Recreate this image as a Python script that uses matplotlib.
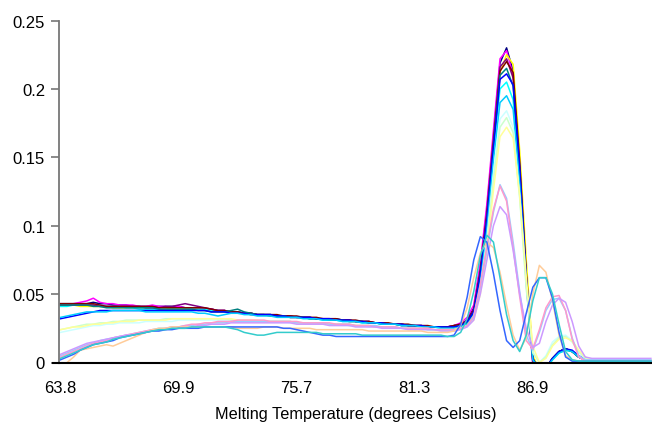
import numpy as np
import matplotlib
matplotlib.use("Agg")
import matplotlib.pyplot as plt

# melt curve derivative values, in thousandths, one reading per step
temps_labels = ["63.8", "69.9", "75.7", "81.3", "86.9"]
label_idx = [0, 18, 36, 54, 72]

navy = [43, 43, 43, 43, 43, 44, 43, 43, 42, 42, 42,
        41, 41, 41, 41, 41, 41, 41, 41, 40, 40,
        40, 39, 39, 38, 38, 37, 37, 36, 36, 35,
        35, 35, 34, 34, 34, 33, 33, 33, 32, 32,
        32, 32, 31, 31, 30, 30, 30, 29, 29, 28,
        28, 28, 27, 27, 27, 26, 26, 26, 26, 27,
        28, 31, 40, 70, 112, 165, 219, 230, 213, 143,
        62, 0, -6, -4, 3, 8, 10, 8, 4, 2,
        1, 1, 1, 1, 1, 1, 1, 1, 1, 1]
magenta = [42, 42, 43, 44, 45, 47, 44, 43, 43, 42, 42,
           42, 41, 41, 42, 41, 41, 40, 41, 40, 40,
           40, 39, 39, 38, 38, 37, 36, 36, 36, 35,
           35, 34, 34, 34, 33, 33, 33, 32, 32, 32,
           32, 31, 31, 30, 30, 30, 29, 29, 29, 28,
           28, 27, 27, 27, 26, 26, 26, 26, 26, 27,
           29, 33, 42, 73, 116, 170, 222, 228, 210, 140,
           58, -2, -7, -4, 3, 8, 10, 8, 4, 2,
           1, 1, 1, 1, 1, 1, 1, 1, 1, 1]
yellow = [42, 42, 42, 41, 41, 41, 41, 41, 40, 40, 40,
          40, 40, 40, 40, 40, 40, 39, 39, 39, 39,
          39, 38, 38, 37, 37, 37, 36, 36, 35, 35,
          35, 34, 34, 34, 33, 33, 33, 32, 32, 32,
          31, 31, 31, 30, 30, 30, 29, 29, 29, 28,
          28, 28, 27, 27, 26, 26, 26, 26, 26, 26,
          27, 30, 37, 63, 105, 160, 212, 225, 218, 155,
          75, 5, -5, -4, 2, 7, 9, 8, 4, 2,
          1, 1, 1, 1, 1, 1, 1, 1, 1, 1]
cyan = [41, 41, 42, 42, 42, 42, 41, 41, 41, 41, 40,
        40, 39, 39, 39, 39, 38, 38, 38, 38, 39,
        39, 39, 38, 38, 37, 37, 37, 36, 36, 35,
        35, 35, 34, 34, 33, 33, 33, 32, 32, 31,
        31, 31, 30, 30, 30, 29, 29, 29, 28, 28,
        28, 27, 27, 27, 26, 26, 26, 25, 25, 26,
        27, 29, 36, 62, 102, 155, 200, 205, 192, 133,
        60, 3, -5, -4, 2, 7, 9, 8, 4, 2,
        1, 1, 1, 1, 1, 1, 1, 1, 1, 1]
purple = [42, 42, 42, 42, 42, 42, 41, 41, 41, 41, 41,
          41, 41, 40, 40, 40, 41, 41, 42, 43, 42,
          41, 40, 39, 38, 38, 37, 37, 36, 36, 35,
          35, 35, 34, 34, 34, 33, 33, 33, 32, 32,
          32, 31, 31, 31, 30, 30, 30, 29, 29, 28,
          28, 28, 27, 27, 27, 26, 26, 26, 26, 27,
          28, 31, 39, 68, 110, 163, 216, 222, 208, 140,
          60, 1, -6, -4, 3, 8, 10, 8, 4, 2,
          1, 1, 1, 1, 1, 1, 1, 1, 1, 1]
maroon = [43, 43, 43, 43, 43, 43, 42, 41, 41, 41, 41,
          41, 41, 41, 41, 40, 40, 40, 40, 40, 40,
          40, 40, 39, 38, 38, 37, 37, 36, 36, 35,
          35, 35, 35, 34, 34, 34, 33, 33, 33, 32,
          32, 32, 31, 31, 31, 30, 30, 29, 29, 29,
          28, 28, 28, 27, 27, 27, 26, 26, 26, 27,
          28, 30, 38, 66, 108, 160, 213, 220, 212, 147,
          66, 3, -6, -4, 3, 8, 10, 8, 4, 2,
          1, 1, 1, 1, 1, 1, 1, 1, 1, 1]
teal = [42, 42, 42, 42, 42, 41, 41, 40, 40, 40, 40,
        40, 40, 40, 40, 39, 39, 39, 39, 39, 39,
        38, 38, 37, 37, 37, 38, 39, 37, 36, 35,
        35, 34, 34, 34, 33, 33, 33, 32, 32, 32,
        31, 31, 31, 30, 30, 30, 29, 29, 28, 28,
        28, 27, 27, 27, 26, 26, 26, 26, 25, 26,
        27, 29, 37, 64, 106, 158, 210, 215, 202, 138,
        60, 2, -6, -4, 3, 8, 10, 8, 4, 2,
        1, 1, 1, 1, 1, 1, 1, 1, 1, 1]
blue = [32, 33, 34, 35, 36, 37, 38, 38, 38, 38, 38,
        38, 38, 38, 38, 38, 38, 38, 38, 38, 38,
        38, 38, 37, 37, 37, 36, 36, 36, 35, 35,
        35, 35, 34, 34, 33, 33, 33, 33, 32, 32,
        32, 31, 31, 31, 30, 30, 29, 29, 29, 28,
        28, 28, 27, 27, 27, 26, 26, 26, 26, 26,
        27, 30, 37, 64, 105, 157, 207, 211, 203, 143,
        63, 3, -6, -4, 3, 8, 10, 9, 5, 2,
        1, 1, 1, 1, 1, 1, 1, 1, 1, 1]
sky = [33, 34, 35, 36, 37, 37, 37, 37, 38, 38, 38,
       38, 38, 37, 37, 37, 37, 37, 37, 37, 37,
       36, 36, 35, 34, 35, 36, 36, 35, 35, 34,
       34, 34, 33, 33, 33, 33, 32, 32, 32, 31,
       31, 31, 30, 30, 30, 29, 29, 29, 28, 28,
       28, 27, 27, 27, 26, 26, 26, 25, 25, 25,
       26, 28, 34, 58, 97, 148, 190, 195, 185, 130,
       58, 2, -5, -4, 2, 7, 9, 8, 4, 2,
       1, 1, 1, 1, 1, 1, 1, 1, 1, 1]
turquoise = [22, 23, 24, 25, 26, 27, 27, 28, 28, 29, 29,
             29, 29, 30, 30, 30, 30, 30, 31, 31, 31,
             31, 31, 31, 31, 31, 31, 31, 31, 30, 30,
             30, 30, 30, 30, 29, 29, 29, 29, 29, 28,
             28, 28, 28, 27, 27, 27, 26, 26, 26, 26,
             25, 25, 25, 25, 24, 24, 24, 24, 24, 24,
             25, 27, 33, 55, 90, 138, 178, 184, 172, 122,
             55, 8, 0, 5, 15, 19, 20, 16, 8, 3,
             2, 2, 2, 2, 2, 2, 2, 2, 2, 2]
pale_green = [24, 25, 26, 27, 28, 28, 29, 29, 30, 30, 31,
              31, 31, 31, 31, 31, 32, 32, 32, 32, 32,
              32, 32, 32, 32, 32, 31, 31, 31, 31, 30,
              30, 30, 30, 30, 30, 29, 29, 29, 29, 28,
              28, 28, 28, 27, 27, 27, 27, 26, 26, 26,
              26, 25, 25, 25, 25, 24, 24, 24, 24, 24,
              25, 27, 32, 53, 87, 133, 172, 179, 168, 120,
              54, 7, 0, 4, 13, 18, 19, 15, 8, 3,
              2, 2, 2, 2, 2, 2, 2, 2, 2, 2]
pale_yellow = [24, 25, 26, 26, 27, 28, 28, 29, 29, 30, 30,
               30, 31, 31, 31, 31, 31, 32, 32, 32, 32,
               32, 32, 32, 32, 32, 32, 31, 31, 31, 31,
               30, 30, 30, 30, 30, 29, 29, 29, 29, 29,
               28, 28, 28, 28, 27, 27, 27, 26, 26, 26,
               26, 25, 25, 25, 25, 25, 24, 24, 24, 24,
               25, 27, 31, 50, 82, 126, 165, 172, 164, 122,
               62, 12, 0, 3, 12, 17, 18, 16, 9, 4,
               2, 2, 2, 2, 2, 2, 2, 2, 2, 2]
pale_blue = [5, 7, 9, 11, 13, 14, 16, 17, 18, 19, 20,
             21, 22, 23, 24, 25, 25, 26, 26, 27, 27,
             28, 28, 29, 29, 29, 30, 30, 30, 30, 30,
             30, 30, 30, 30, 30, 29, 29, 29, 29, 29,
             28, 28, 28, 28, 27, 27, 27, 27, 26, 26,
             26, 25, 25, 25, 25, 24, 24, 24, 24, 24,
             25, 27, 33, 55, 82, 110, 130, 120, 88, 52,
             20, 9, 22, 38, 46, 47, 38, 18, 5, 2,
             2, 2, 2, 2, 2, 2, 2, 2, 2, 2]
rose = [4, 6, 8, 10, 12, 14, 15, 16, 18, 19, 20,
        21, 22, 23, 24, 24, 25, 26, 26, 27, 28,
        28, 29, 29, 30, 30, 30, 31, 31, 31, 31,
        31, 30, 30, 30, 30, 30, 29, 29, 29, 29,
        29, 28, 28, 28, 27, 27, 27, 26, 26, 26,
        26, 25, 25, 25, 25, 25, 24, 24, 24, 24,
        25, 27, 34, 57, 85, 112, 129, 118, 84, 48,
        16, 10, 24, 40, 48, 49, 38, 17, 4, 1,
        1, 1, 1, 1, 1, 1, 1, 1, 1, 1]
lavender = [6, 8, 10, 12, 14, 15, 16, 17, 18, 19, 20,
            20, 21, 22, 23, 24, 24, 25, 25, 26, 26,
            27, 27, 28, 28, 28, 29, 29, 29, 29, 29,
            29, 29, 29, 29, 29, 28, 28, 28, 28, 28,
            27, 27, 27, 27, 26, 26, 26, 26, 25, 25,
            25, 25, 24, 24, 24, 24, 24, 23, 23, 23,
            24, 26, 31, 50, 75, 100, 114, 108, 82, 50,
            25, 11, 14, 30, 42, 47, 44, 30, 12, 4,
            3, 3, 3, 3, 3, 3, 3, 3, 3, 3]
tan = [-4, 0, 4, 9, 10, 11, 12, 13, 12, 14, 16,
       18, 20, 22, 24, 25, 25, 26, 26, 26, 26,
       26, 26, 26, 26, 26, 26, 25, 25, 25, 25,
       26, 26, 26, 25, 25, 25, 25, 25, 24, 24,
       24, 24, 24, 24, 24, 24, 23, 23, 23, 23,
       23, 23, 23, 23, 23, 22, 22, 22, 22, 23,
       27, 40, 62, 80, 88, 84, 66, 42, 20, 9,
       18, 50, 71, 66, 45, 20, 5, 2, 1, 1,
       1, 1, 1, 1, 1, 1, 1, 1, 1, 1]
blue2 = [2, 4, 6, 9, 11, 13, 14, 15, 16, 18, 19,
         20, 21, 22, 23, 23, 24, 24, 25, 25, 25,
         25, 26, 26, 26, 26, 26, 26, 26, 26, 26,
         26, 26, 26, 25, 25, 24, 23, 22, 21, 20,
         20, 19, 19, 19, 19, 19, 19, 19, 19, 19,
         19, 19, 19, 19, 19, 19, 19, 19, 19, 20,
         28, 48, 75, 92, 88, 65, 38, 16, 11, 16,
         36, 55, 62, 62, 47, 22, 4, 1, 1, 1,
         1, 1, 1, 1, 1, 1, 1, 1, 1, 1]
aqua = [3, 5, 7, 9, 11, 13, 14, 15, 17, 18, 19,
        20, 21, 22, 23, 24, 24, 25, 25, 25, 26,
        26, 26, 26, 26, 26, 25, 24, 22, 21, 20,
        20, 21, 22, 22, 22, 22, 22, 22, 22, 21,
        21, 21, 21, 21, 21, 20, 20, 20, 20, 20,
        20, 20, 20, 20, 20, 20, 20, 20, 19, 19,
        22, 32, 52, 78, 93, 88, 62, 35, 16, 8,
        20, 45, 62, 62, 50, 28, 8, 2, 1, 1,
        1, 1, 1, 1, 1, 1, 1, 1, 1, 1]

series = [
    (navy, "#000080"), (magenta, "#FF00FF"), (yellow, "#FFFF00"),
    (cyan, "#00FFFF"), (purple, "#800080"), (maroon, "#800000"),
    (teal, "#008080"), (blue, "#0000FF"), (sky, "#00CCFF"),
    (turquoise, "#CCFFFF"), (pale_green, "#CCFFCC"), (pale_yellow, "#FFFF99"),
    (pale_blue, "#99CCFF"), (rose, "#FF99CC"), (lavender, "#CC99FF"),
    (tan, "#FFCC99"), (blue2, "#3366FF"), (aqua, "#33CCCC"),
]

plt.rcParams['font.family'] = ['Liberation Sans', 'DejaVu Sans']

fig = plt.figure(figsize=(6.52, 4.27), dpi=100)
ax = fig.add_axes([59 / 652, 63.5 / 427, 593 / 652, 342 / 427])

for vals, col in series:
    y = np.array(vals) / 1000.0
    ax.plot(np.arange(len(y)), y, color=col, linewidth=1.1)

ax.set_xlim(-0.23, 90.17)
ax.set_ylim(0, 0.25)
ax.set_yticks([0, 0.05, 0.1, 0.15, 0.2, 0.25])
ax.set_yticklabels(["0", "0.05", "0.1", "0.15", "0.2", "0.25"])
ax.set_xticks(label_idx)
ax.set_xticklabels(temps_labels)
ax.tick_params(axis='x', length=0, pad=12.5, labelsize=12)
ax.tick_params(axis='y', length=6, width=1.2, color='#777777', pad=4, labelsize=12)

for side in ['top', 'right']:
    ax.spines[side].set_visible(False)
ax.spines['left'].set_color('#777777')
ax.spines['left'].set_linewidth(1.3)
ax.spines['bottom'].set_color('black')
ax.spines['bottom'].set_linewidth(1.5)
ax.spines['bottom'].set_zorder(5)
ax.plot([-6 / 593, 0], [0, 0], transform=ax.transAxes, color='black',
        linewidth=1.5, clip_on=False, zorder=6)

ax.set_xlabel("Melting Temperature (degrees Celsius)", fontsize=11.7, labelpad=8)

fig.savefig("out.png", dpi=100)
